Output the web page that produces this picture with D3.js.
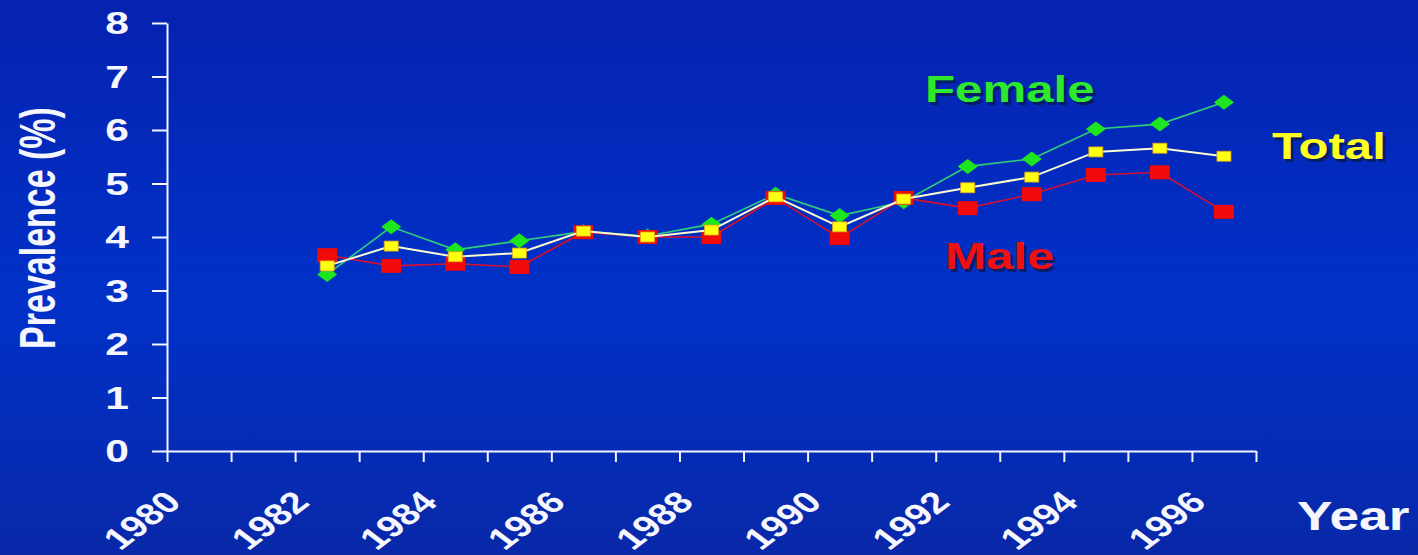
<!DOCTYPE html>
<html>
<head>
<meta charset="utf-8">
<script src="https://cdn.jsdelivr.net/npm/d3@7"></script>
<style>
  html, body { margin: 0; padding: 0; background: #0330c4; }
  svg { display: block; }
  text { font-family: "Liberation Sans", Arial, sans-serif; font-weight: bold; }
</style>
</head>
<body>
<svg id="chart" width="1418" height="555"></svg>
<script>
// Prevalence (%) by survey year
const years   = [1982, 1983, 1984, 1985, 1986, 1987, 1988, 1989, 1990, 1991, 1992, 1993, 1994, 1995, 1996];
const female  = [3.30, 4.19, 3.76, 3.93, 4.10, 4.02, 4.24, 4.80, 4.40, 4.66, 5.32, 5.46, 6.02, 6.11, 6.52];
const total   = [3.46, 3.83, 3.63, 3.70, 4.11, 4.00, 4.13, 4.75, 4.19, 4.71, 4.92, 5.12, 5.59, 5.66, 5.51];
const male    = [3.66, 3.46, 3.50, 3.44, 4.09, 4.00, 4.00, 4.73, 3.98, 4.73, 4.54, 4.80, 5.16, 5.21, 4.47];
const yTicks  = [0, 1, 2, 3, 4, 5, 6, 7, 8];
const xTicks  = d3.range(1980, 1998);            // one tick per year, 1980–1997
const xLabels = [1980, 1982, 1984, 1986, 1988, 1990, 1992, 1994, 1996];

const svg = d3.select("#chart");
const W = 1418, H = 555;
const SX = 1.33;                                  // wide lettering

// background gradient
const defs = svg.append("defs");
const grad = defs.append("linearGradient").attr("id", "bg")
  .attr("x1", 0).attr("y1", 0).attr("x2", 0).attr("y2", 1);
grad.append("stop").attr("offset", "0%").attr("stop-color", "#0522b0");
grad.append("stop").attr("offset", "55%").attr("stop-color", "#0131c8");
grad.append("stop").attr("offset", "100%").attr("stop-color", "#0828a8");
svg.append("rect").attr("width", W).attr("height", H).attr("fill", "url(#bg)");

const x = d3.scaleLinear().domain([1980, 1997]).range([167, 1256]);
const y = d3.scaleLinear().domain([0, 8]).range([451, 23]);
const xc = yr => x(yr + 0.5);                    // points sit mid-year

// axes
const gx = svg.append("g").attr("transform", `translate(0,${y(0)})`)
  .call(d3.axisBottom(x).tickValues(xTicks).tickSize(11).tickSizeOuter(0).tickFormat(""));
const gy = svg.append("g").attr("transform", `translate(${x(1980)},0)`)
  .call(d3.axisLeft(y).tickValues(yTicks).tickSize(15).tickSizeOuter(0).tickFormat(""));
[gx, gy].forEach(g => {
  g.selectAll("path, line").attr("stroke", "#f4f4ff").attr("stroke-width", 2);
});

// y tick labels
svg.append("g").selectAll("text").data(yTicks).join("text")
  .attr("transform", d => `translate(129,${y(d)}) scale(${SX},1)`)
  .attr("text-anchor", "end").attr("dominant-baseline", "central")
  .attr("font-size", 32).attr("fill", "#f6f6ff")
  .text(d => d);

// x tick labels, slanted
svg.append("g").selectAll("text").data(xLabels).join("text")
  .attr("transform", d => `translate(${x(d) + 16},504) scale(${SX},1) rotate(-45)`)
  .attr("text-anchor", "end")
  .attr("font-size", 30).attr("fill", "#f6f6ff")
  .text(d => d);

// axis titles
svg.append("text")
  .attr("transform", `translate(55,228) scale(1.45,1) rotate(-90)`)
  .attr("text-anchor", "middle")
  .attr("font-size", 34).attr("fill", "#f6f6ff")
  .text("Prevalence (%)");
svg.append("text")
  .attr("transform", `translate(1297,530) scale(${SX},1)`)
  .attr("font-size", 40).attr("fill", "#f6f6ff")
  .text("Year");

// series
const line = vals => d3.line().x((d, i) => xc(years[i])).y(d => y(d))(vals);

svg.append("path").attr("d", line(female)).attr("fill", "none")
  .attr("stroke", "#2fcf7a").attr("stroke-width", 1.6);
svg.append("g").selectAll("path").data(female).join("path")
  .attr("transform", (d, i) => `translate(${xc(years[i])},${y(d)})`)
  .attr("d", "M0,-7.5 L10,0 L0,7.5 L-10,0 Z")
  .attr("fill", "#1ee61e");

svg.append("path").attr("d", line(male)).attr("fill", "none")
  .attr("stroke", "#d8102e").attr("stroke-width", 1.6);
svg.append("g").selectAll("rect").data(male).join("rect")
  .attr("x", (d, i) => xc(years[i]) - 10).attr("y", d => y(d) - 7)
  .attr("width", 20).attr("height", 14)
  .attr("fill", "#f00a0a");

svg.append("path").attr("d", line(total)).attr("fill", "none")
  .attr("stroke", "#fbfbd0").attr("stroke-width", 2);
svg.append("g").selectAll("rect").data(total).join("rect")
  .attr("x", (d, i) => xc(years[i]) - 7).attr("y", d => y(d) - 5)
  .attr("width", 14).attr("height", 10)
  .attr("fill", "#ffff10").attr("stroke", "#e0a020").attr("stroke-width", 0.8);

// series names with drop shadow
const names = [
  { text: "Female", x: 925,  y: 102, color: "#2ee82e" },
  { text: "Total",  x: 1272, y: 159, color: "#ffff22" },
  { text: "Male",   x: 945,  y: 269, color: "#f01010" }
];
const ng = svg.append("g");
ng.selectAll("text.sh").data(names).join("text").attr("class", "sh")
  .attr("transform", d => `translate(${d.x + 3},${d.y + 3}) scale(${SX},1)`)
  .attr("font-size", 37).attr("fill", "#061a50").attr("opacity", 0.8)
  .text(d => d.text);
ng.selectAll("text.nm").data(names).join("text").attr("class", "nm")
  .attr("transform", d => `translate(${d.x},${d.y}) scale(${SX},1)`)
  .attr("font-size", 37).attr("fill", d => d.color)
  .text(d => d.text);
</script>
</body>
</html>
